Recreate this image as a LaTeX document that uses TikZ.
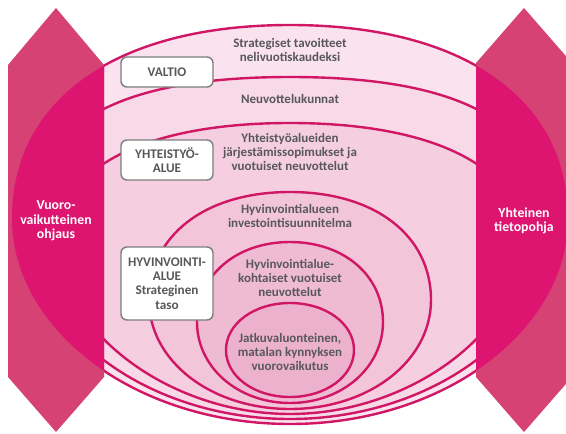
\documentclass[tikz,border=0pt]{standalone}
\usepackage{fontspec}
\setmainfont{Carlito}
\definecolor{hexA}{RGB}{214,66,116}
\definecolor{hexB}{RGB}{221,20,112}
\definecolor{ringline}{RGB}{208,22,100}
\definecolor{bandA}{RGB}{250,227,238}
\definecolor{bandB}{RGB}{248,217,231}
\definecolor{bandC}{RGB}{245,207,224}
\definecolor{bandD}{RGB}{242,197,217}
\definecolor{bandE}{RGB}{239,187,211}
\definecolor{bandF}{RGB}{236,178,205}
\definecolor{txtgray}{RGB}{88,88,92}
\definecolor{boxgray}{RGB}{125,125,125}
% egg path: #1 top y, #2 widest y, #3 bottom y, #4 half width, #5 top squareness, #6 bottom squareness
\newcommand\eggpath[6]{%
  (290,#1) .. controls ({290+#5*#4},#1) and ({290+#4},{#2-#5*(#2-#1)}) .. ({290+#4},#2)
  .. controls ({290+#4},{#2+#6*(#3-#2)}) and ({290+#6*#4},#3) .. (290,#3)
  .. controls ({290-#6*#4},#3) and ({290-#4},{#2+#6*(#3-#2)}) .. ({290-#4},#2)
  .. controls ({290-#4},{#2-#5*(#2-#1)}) and ({290-#5*#4},#1) .. (290,#1) -- cycle}
\newcommand\cA{\eggpath{25}{218}{424}{278}{0.62}{0.55}}
\newcommand\cB{\eggpath{77}{230}{419}{260}{0.68}{0.54}}
\newcommand\cC{\eggpath{123}{240}{414}{232}{0.62}{0.52}}
\newcommand\cD{\eggpath{192}{300}{409}{141}{0.6}{0.56}}
\newcommand\cE{\eggpath{242}{322}{403}{93}{0.58}{0.56}}
\newcommand\cF{\eggpath{303}{350}{397}{64}{0.56}{0.56}}
\tikzset{
  ring/.style={draw=ringline, line width=2.4pt},
  label/.style={text=txtgray, align=center, font=\fontsize{13}{14.3}\selectfont\bfseries, inner sep=0pt},
  tag/.style={draw=boxgray, line width=1.4pt, fill=white, rounded corners=6pt, minimum width=92pt, text=txtgray, align=center, font=\fontsize{13.2}{14.3}\selectfont\bfseries},
  side/.style={text=white, align=center, font=\fontsize{13.8}{14.5}\selectfont\bfseries, inner sep=0pt}
}
\begin{document}
\begin{tikzpicture}[x=1pt,y=-1pt]
\useasboundingbox (0,0) rectangle (566,434);
% bands
\fill[bandA] \cA;
\fill[bandB] \cB;
\fill[bandC] \cC;
\fill[bandD] \cD;
\fill[bandE] \cE;
\fill[bandF] \cF;
% ring lines
\draw[ring] \cA;
\draw[ring] \cB;
\draw[ring] \cC;
\draw[ring] \cD;
\draw[ring] \cE;
\draw[ring] \cF;
% left hexagon
\fill[hexA] (8,65) -- (56,8) -- (104,65) -- (104,377) -- (56,432) -- (8,377) -- cycle;
\begin{scope}
  \clip (8,65) -- (56,8) -- (104,65) -- (104,377) -- (56,432) -- (8,377) -- cycle;
  \fill[hexB] \cA;
\end{scope}
% right hexagon
\fill[hexA] (476,63) -- (524,8) -- (572,63) -- (572,377) -- (524,432) -- (476,377) -- cycle;
\begin{scope}
  \clip (476,63) -- (524,8) -- (572,63) -- (572,377) -- (524,432) -- (476,377) -- cycle;
  \fill[hexB] \cA;
\end{scope}
% side texts
\node[side] (vuoro) at (56,221) {Vuoro-\\vaikutteinen\\ohjaus};
\node[side] (yhteinen) at (524,221) {Yhteinen\\tietopohja};
% band texts
\node[label] (strat) at (290,50) {Strategiset tavoitteet\\nelivuotiskaudeksi};
\node[label] (neuvo) at (290,99) {Neuvottelukunnat};
\node[label] (yhtalue) at (290,152) {Yhteistyöalueiden\\järjestämissopimukset ja\\vuotuiset neuvottelut};
\node[label] (invest) at (290,216) {Hyvinvointialueen\\investointisuunnitelma};
\node[label] (kohtaiset) at (290,278) {Hyvinvointialue-\\kohtaiset vuotuiset\\neuvottelut};
\node[label] (jatkuva) at (290,352) {Jatkuvaluonteinen,\\matalan kynnyksen\\vuorovaikutus};
% tags
\node[tag, minimum height=30pt] (valtio) at (167,72) {VALTIO};
\node[tag, minimum height=40pt] (yhteistyo) at (167,160) {YHTEISTYÖ-\\ALUE};
\node[tag, minimum height=73pt] (hyvinvointi) at (167,283.5) {HYVINVOINTI-\\ALUE\\Strateginen\\taso};
\end{tikzpicture}
\end{document}
